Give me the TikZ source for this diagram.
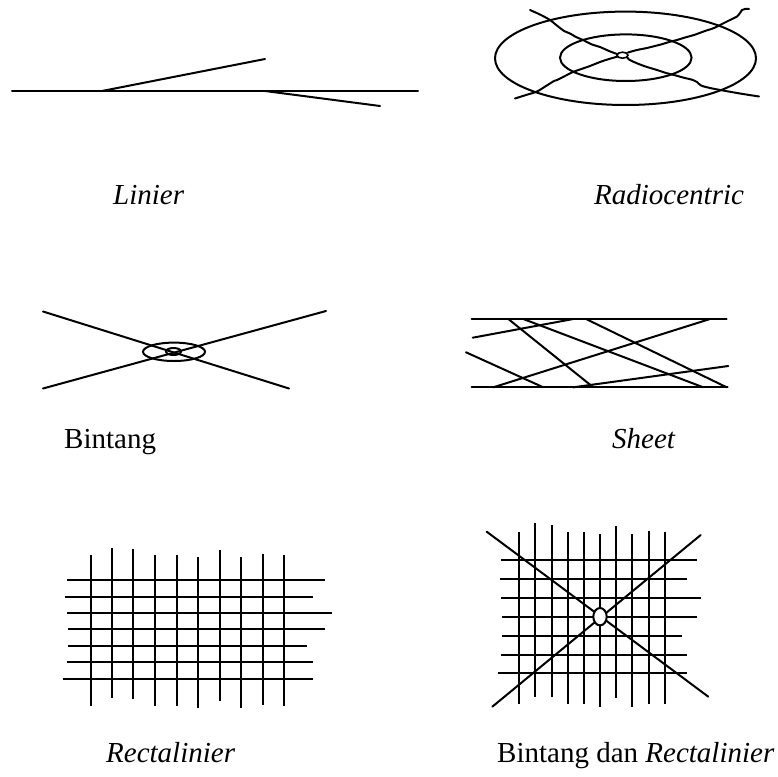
\documentclass[tikz,border=0pt]{standalone}
\usepackage{fontspec}
\setmainfont{Liberation Serif}
\begin{document}
\begin{tikzpicture}[x=1pt,y=-1pt,
  road/.style={line width=2pt,line cap=round},
  ring/.style={line width=2pt},
  lbl/.style={anchor=base west,inner sep=0pt,font=\fontsize{29}{34}\selectfont}]
\useasboundingbox (0,0) rectangle (778,776);
% ---------- Linier ----------
\coordinate (l1) at (12,91);
\coordinate (l2) at (418,91);
\coordinate (l3) at (102,91);
\coordinate (l4) at (265,59);
\coordinate (l5) at (265,91);
\coordinate (l6) at (380,106);
\draw[road] (l1) -- (l2);
\draw[road] (l3) -- (l4);
\draw[road] (l5) -- (l6);
\node[lbl] (tlin) at (113,204) {\textit{Linier}};
% ---------- Radiocentric ----------
\coordinate (rc) at (625.5,58.3);
\draw[ring] (rc) ellipse [x radius=130.5, y radius=46.7];
\draw[ring] (625.8,57.7) ellipse [x radius=65.8, y radius=23.3];
\draw[road] plot[smooth,tension=0.5] coordinates {(617,54) (609,51) (600,47) (592,44.5) (583,40) (576,37) (570,33.5) (564,31) (560,28) (555,24) (550,20) (541,15) (530,10)};
\draw[road] plot[smooth,tension=0.5] coordinates {(628,52.5) (637,50) (647,48) (655,46) (661,44.5) (669,42) (677,40) (685,37.5) (694,35) (705,31) (714,28) (722,24) (730,20) (737,16.5) (740,13) (742,10) (745,9) (749,9)};
\draw[road] plot[smooth,tension=0.5] coordinates {(618,56.5) (609,59) (600,62) (590,66) (580,69.5) (573,72) (565,76) (557,80) (554,81) (546,86) (537,91.5) (526,95) (515,98.5)};
\draw[road] plot[smooth,tension=0.5] coordinates {(627,57) (629,59.5) (634,62) (640,64.5) (647,67) (657,70) (666,73) (674,75) (683,77.5) (693,80) (697,82) (701,85.5) (710,88) (723,90.5) (740,93.5) (759,96.5)};
\draw[line width=1.6pt,fill=white] (622.5,55.2) ellipse [x radius=5.5, y radius=3];
\node[lbl] (trad) at (594,204) {\textit{Radiocentric}};
% ---------- Bintang ----------
\coordinate (b1) at (43,311.5);
\coordinate (b2) at (289,388.5);
\coordinate (b3) at (43,388.5);
\coordinate (b4) at (326,311);
\draw[road] (b1) -- (b2);
\draw[road] (b3) -- (b4);
\draw[ring] (174,351.8) ellipse [x radius=31, y radius=9.2];
\draw[ring] (173.5,351.5) ellipse [x radius=7.5, y radius=3.5];
\node[lbl] (tbin) at (64,448) {Bintang};
% ---------- Sheet ----------
\coordinate (s1) at (471.7,319);
\coordinate (s2) at (726.7,319);
\coordinate (s3) at (471.7,387.3);
\coordinate (s4) at (727.7,387.3);
\draw[road] (s1) -- (s2);
\draw[road] (s3) -- (s4);
\draw[road] (472.7,337.7) -- (573.3,319);
\draw[road] (466,352.3) -- (543.3,387.3);
\draw[road] (508.3,319) -- (593.3,387.3);
\draw[road] (523.3,319) -- (703.3,387.3);
\draw[road] (586,319) -- (726.7,387.3);
\draw[road] (493.3,387.3) -- (710,319);
\draw[road] (573.3,387.3) -- (728.3,366);
\node[lbl] (tsheet) at (612,448) {\textit{Sheet}};
% ---------- Rectalinier ----------
\foreach \x/\t/\b in {90.7/555/705.7, 112/547.7/698.3, 133.3/549/699.3, 155/555/705.7, 176.7/555/705.7, 198.3/557.3/707.7, 219.7/550/700.7, 241/557.3/707.7, 262.7/554/705, 284.3/555/705.7}
  \draw[road,line cap=butt] (\x,\t) -- (\x,\b);
\foreach \y/\a/\e in {580.3/66.7/325.3, 596.7/65.3/313.3, 612.7/66.7/332, 629.3/68.3/325.3, 646/68.3/306.7, 662.3/66.7/313.3, 679/62.7/313.3}
  \draw[road,line cap=butt] (\a,\y) -- (\e,\y);
\node[lbl] (trect) at (106,762) {\textit{Rectalinier}};
% ---------- Bintang dan Rectalinier ----------
\foreach \x/\t/\b in {519.3/531.7/704, 535.3/523.3/696.7, 551.7/525/697.3, 567.7/531.7/704, 583.7/531.7/704, 600/534/706.7, 616.3/526/698.3, 632.3/534/706.7, 649/531/704, 665/531.7/704}
  \draw[road,line cap=butt] (\x,\t) -- (\x,\b);
\foreach \y/\a/\e in {560.3/501/696.7, 579.3/500/687.3, 598/501/700.7, 616.7/502.3/696.7, 635.7/502.3/681.7, 654.7/501/687.3, 673.3/498.3/687.3}
  \draw[road,line cap=butt] (\a,\y) -- (\e,\y);
\coordinate (d1) at (486.7,531.7);
\coordinate (d2) at (708.3,696.7);
\coordinate (d3) at (492.3,706.7);
\coordinate (d4) at (700.7,535);
\draw[road] (d1) -- (d2);
\draw[road] (d3) -- (d4);
\draw[ring,fill=white] (600,616.7) ellipse [x radius=6.7, y radius=8.7];
\node[lbl] (tbdr) at (497,762) {Bintang dan \textit{Rectalinier}};
\end{tikzpicture}
\end{document}
